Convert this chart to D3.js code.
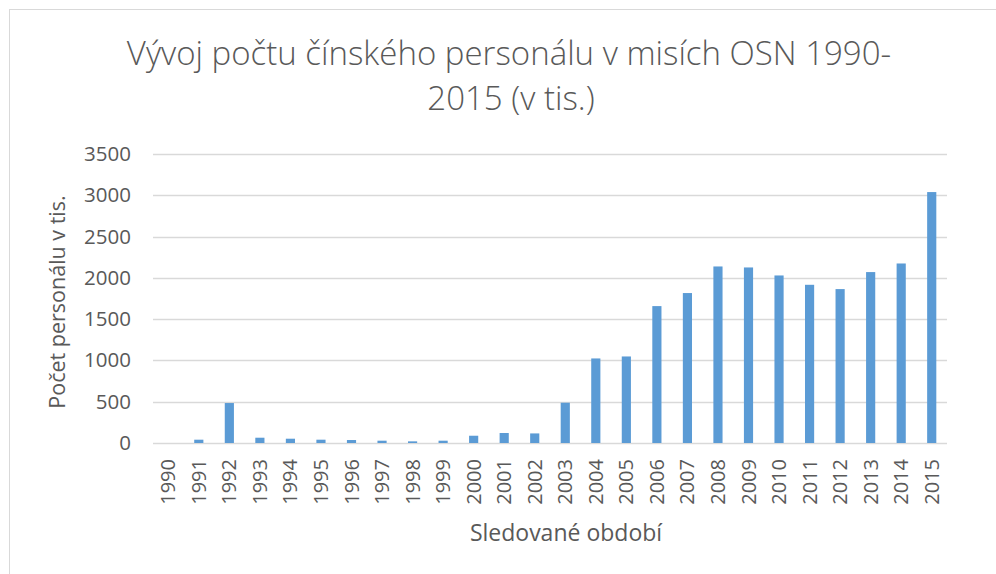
<!DOCTYPE html>
<html>
<head>
<meta charset="utf-8">
<script src="https://cdn.jsdelivr.net/npm/d3@7"></script>
<style>
  body { margin: 0; background: #fff; }
  svg text { font-family: "Open Sans", sans-serif; fill: #595959; }
</style>
</head>
<body>
<div id="chart"></div>
<script>
// chart data
const years = ['1990', '1991', '1992', '1993', '1994', '1995', '1996', '1997', '1998', '1999',
  '2000', '2001', '2002', '2003', '2004', '2005', '2006', '2007', '2008', '2009',
  '2010', '2011', '2012', '2013', '2014', '2015'];
const personnel = [0, 40, 484, 64, 52, 40, 36, 28, 20, 28,
  88, 121, 116, 488, 1024, 1048, 1658, 1816, 2138, 2126,
  2029, 1916, 1864, 2070, 2174, 3039];
const yTicks = [0, 500, 1000, 1500, 2000, 2500, 3000, 3500];

const titleLines = ['Vývoj počtu čínského personálu v misích OSN 1990-', '2015 (v tis.)'];
const xTitle = 'Sledované období';
const yTitle = 'Počet personálu v tis.';

const width = 996, height = 574;
const margin = {top: 154, right: 49, bottom: 131, left: 153};

const svg = d3.select('#chart').append('svg')
    .attr('width', width)
    .attr('height', height);

// chart frame
svg.append('rect')
    .attr('x', 9.5).attr('y', 9.5)
    .attr('width', width).attr('height', height)
    .attr('fill', 'none')
    .attr('stroke', '#d9d9d9');

const x = d3.scaleBand()
    .domain(years)
    .range([margin.left, width - margin.right])
    .paddingInner(0.7)
    .paddingOuter(0.35);

const y = d3.scaleLinear()
    .domain([0, 3500])
    .range([height - margin.bottom, margin.top]);

// gridlines
svg.append('g')
    .selectAll('line')
    .data(yTicks)
    .enter()
    .append('line')
    .attr('x1', margin.left)
    .attr('x2', width - margin.right)
    .attr('y1', d => Math.round(y(d)) + 0.5)
    .attr('y2', d => Math.round(y(d)) + 0.5)
    .attr('stroke', '#d9d9d9')
    .attr('stroke-width', 1.3);

// bars
svg.append('g')
    .selectAll('rect')
    .data(years)
    .enter()
    .append('rect')
    .attr('x', d => x(d))
    .attr('width', x.bandwidth())
    .attr('y', (d, i) => y(personnel[i]))
    .attr('height', (d, i) => y(0) - y(personnel[i]))
    .attr('fill', '#5b9bd5');

// y axis labels
const yAxis = svg.append('g')
    .attr('transform', `translate(${margin.left - 22},0)`)
    .call(d3.axisLeft(y).tickValues(yTicks).tickFormat(d3.format('d')).tickSize(0).tickPadding(0));
yAxis.select('.domain').remove();
yAxis.selectAll('text')
    .style('font-size', '20.5px')
    .attr('fill', '#595959');

// x axis labels, rotated
const xAxis = svg.append('g')
    .attr('transform', `translate(0,${height - margin.bottom})`)
    .call(d3.axisBottom(x).tickSize(0).tickPadding(0));
xAxis.select('.domain').remove();
xAxis.selectAll('text')
    .style('font-size', '20px')
    .attr('fill', '#595959')
    .attr('transform', 'rotate(-90)')
    .attr('text-anchor', 'end')
    .attr('x', -16)
    .attr('y', 0)
    .attr('dy', '0.35em');

// title
svg.append('g')
    .selectAll('text')
    .data(titleLines)
    .enter()
    .append('text')
    .attr('x', (d, i) => i === 0 ? 509 : 511)
    .attr('y', (d, i) => 65 + i * 45)
    .attr('text-anchor', 'middle')
    .style('font-size', '33px')
    .style('font-weight', 300)
    .text(d => d);

// axis titles
svg.append('text')
    .attr('x', 566)
    .attr('y', 541)
    .attr('text-anchor', 'middle')
    .style('font-size', '23px')
    .text(xTitle);

svg.append('text')
    .attr('transform', 'translate(65,302) rotate(-90)')
    .attr('text-anchor', 'middle')
    .style('font-size', '21.5px')
    .text(yTitle);
</script>
</body>
</html>
